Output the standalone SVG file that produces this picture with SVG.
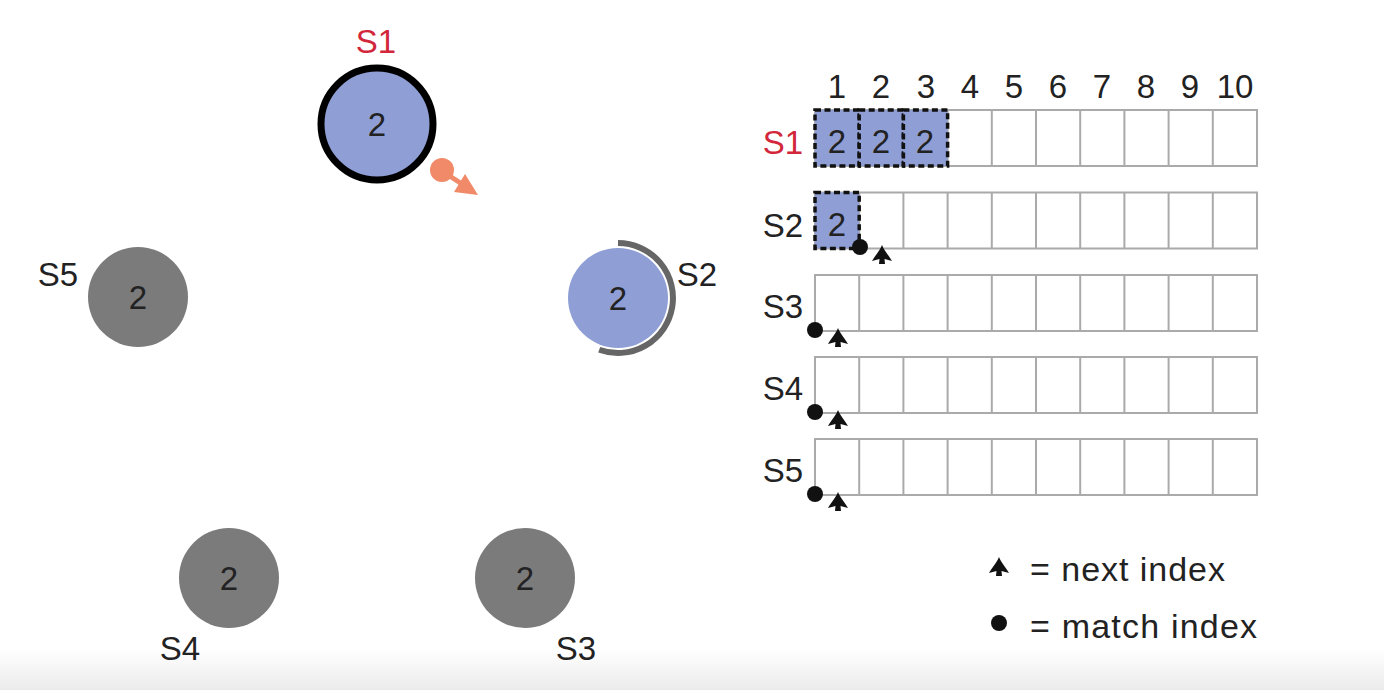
<svg xmlns="http://www.w3.org/2000/svg" xmlns:xlink="http://www.w3.org/1999/xlink" width="1384" height="690" viewBox="0 0 1384 690">
<style>
text{font-family:"Liberation Sans",Arial,sans-serif;fill:#222;}
.lbl{font-size:33px;}
.red{fill:#d2263a;}
.num{font-size:33px;text-anchor:middle;}
.gray{fill:#7b7b7b;}
.blue{fill:#8f9fd6;}
.cell{fill:#fff;stroke:#aaa;stroke-width:2;}
.dcell{fill:#8f9fd6;stroke:#111;stroke-width:3.5;stroke-dasharray:6 3.5;}
.leg{font-size:34px;}
</style>
<defs>
<linearGradient id="bg" x1="0" y1="0" x2="0" y2="1">
<stop offset="0" stop-color="#ffffff"/>
<stop offset="1" stop-color="#ebebeb"/>
</linearGradient>
<path id="nxt" d="M0,0 C2,5 7,11 10,16 L2.5,14 L3,19 L-3,19 L-2.5,14 L-10,16 C-7,11 -2,5 0,0 Z" fill="#111"/>
</defs>
<rect x="0" y="0" width="1384" height="690" fill="#fff"/>
<rect x="0" y="650" width="1384" height="40" fill="url(#bg)"/>

<g id="S1">
<circle cx="377" cy="124" r="56" class="blue" stroke="#000" stroke-width="7"/>
<text x="377" y="136" class="num">2</text>
<text x="376" y="53" class="lbl red" text-anchor="middle">S1</text>
</g>
<g id="msg">
<circle cx="442" cy="170" r="12" fill="#f08a68"/>
<line x1="445" y1="173" x2="462" y2="184" stroke="#f08a68" stroke-width="5"/>
<polygon points="465,174 454,192 478,195" fill="#f08a68"/>
</g>
<g id="S2">
<circle cx="618" cy="298" r="50" class="blue"/>
<path d="M618,243 A55,55 0 1 1 599.2,349.7" fill="none" stroke="#666" stroke-width="6"/>
<text x="618" y="310" class="num">2</text>
<text x="697" y="286" class="lbl" text-anchor="middle">S2</text>
</g>
<g id="S5">
<circle cx="138" cy="297" r="50" class="gray"/>
<text x="138" y="309" class="num">2</text>
<text x="58" y="286" class="lbl" text-anchor="middle">S5</text>
</g>
<g id="S4">
<circle cx="229" cy="578" r="50" class="gray"/>
<text x="229" y="590" class="num">2</text>
<text x="180" y="660" class="lbl" text-anchor="middle">S4</text>
</g>
<g id="S3">
<circle cx="525" cy="578" r="50" class="gray"/>
<text x="525" y="590" class="num">2</text>
<text x="576" y="660" class="lbl" text-anchor="middle">S3</text>
</g>

<g id="log">
<g id="header">
<text x="837" y="98" class="num">1</text>
<text x="881" y="98" class="num">2</text>
<text x="926" y="98" class="num">3</text>
<text x="970" y="98" class="num">4</text>
<text x="1014" y="98" class="num">5</text>
<text x="1058" y="98" class="num">6</text>
<text x="1102" y="98" class="num">7</text>
<text x="1146" y="98" class="num">8</text>
<text x="1190" y="98" class="num">9</text>
<text x="1235" y="98" class="num">10</text>
</g>
<g id="rows">
<path d="M815,110 h442 v56 h-442 Z M859.2,110 v56 M903.4,110 v56 M947.6,110 v56 M991.8,110 v56 M1036,110 v56 M1080.2,110 v56 M1124.4,110 v56 M1168.6,110 v56 M1212.8,110 v56" class="cell"/>
<path d="M815,192.5 h442 v56 h-442 Z M859.2,192.5 v56 M903.4,192.5 v56 M947.6,192.5 v56 M991.8,192.5 v56 M1036,192.5 v56 M1080.2,192.5 v56 M1124.4,192.5 v56 M1168.6,192.5 v56 M1212.8,192.5 v56" class="cell"/>
<path d="M815,275 h442 v56 h-442 Z M859.2,275 v56 M903.4,275 v56 M947.6,275 v56 M991.8,275 v56 M1036,275 v56 M1080.2,275 v56 M1124.4,275 v56 M1168.6,275 v56 M1212.8,275 v56" class="cell"/>
<path d="M815,357 h442 v56 h-442 Z M859.2,357 v56 M903.4,357 v56 M947.6,357 v56 M991.8,357 v56 M1036,357 v56 M1080.2,357 v56 M1124.4,357 v56 M1168.6,357 v56 M1212.8,357 v56" class="cell"/>
<path d="M815,439 h442 v56 h-442 Z M859.2,439 v56 M903.4,439 v56 M947.6,439 v56 M991.8,439 v56 M1036,439 v56 M1080.2,439 v56 M1124.4,439 v56 M1168.6,439 v56 M1212.8,439 v56" class="cell"/>
</g>
<g id="entries">
<rect x="815" y="110" width="44.2" height="56" class="dcell"/>
<rect x="859.2" y="110" width="44.2" height="56" class="dcell"/>
<rect x="903.4" y="110" width="44.2" height="56" class="dcell"/>
<rect x="815" y="192.5" width="44.2" height="56" class="dcell"/>
<text x="837" y="153" class="num">2</text>
<text x="881" y="153" class="num">2</text>
<text x="925" y="153" class="num">2</text>
<text x="837" y="236" class="num">2</text>
</g>
<g id="rowlabels">
<text x="803" y="154" class="lbl red" text-anchor="end">S1</text>
<text x="803" y="237" class="lbl" text-anchor="end">S2</text>
<text x="803" y="318" class="lbl" text-anchor="end">S3</text>
<text x="803" y="400" class="lbl" text-anchor="end">S4</text>
<text x="803" y="482" class="lbl" text-anchor="end">S5</text>
</g>
<g id="indices">
<circle cx="860" cy="247" r="8" fill="#111"/>
<use xlink:href="#nxt" x="882" y="245"/>
<circle cx="815" cy="330" r="8" fill="#111"/>
<use xlink:href="#nxt" x="838" y="328"/>
<circle cx="815" cy="412" r="8" fill="#111"/>
<use xlink:href="#nxt" x="838" y="410"/>
<circle cx="815" cy="494" r="8" fill="#111"/>
<use xlink:href="#nxt" x="838" y="492"/>
</g>
</g>

<g id="legend">
<use xlink:href="#nxt" x="999" y="557"/>
<text x="1030" y="581" class="leg" textLength="195" lengthAdjust="spacing">= next index</text>
<circle cx="999" cy="623" r="8" fill="#111"/>
<text x="1030" y="638" class="leg" textLength="227" lengthAdjust="spacing">= match index</text>
</g>
</svg>
